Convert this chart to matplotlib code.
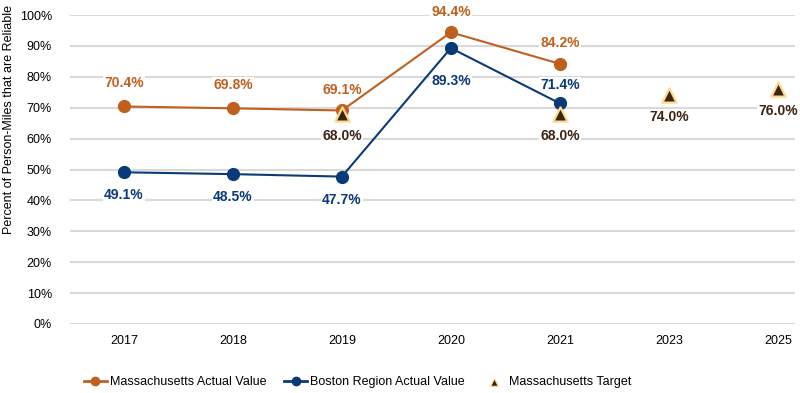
import matplotlib
matplotlib.use("Agg")
import matplotlib.pyplot as plt

# Data -------
years = ["2017", "2018", "2019", "2020", "2021", "2023", "2025"]
ma_actual = [70.4, 69.8, 69.1, 94.4, 84.2]
boston_actual = [49.1, 48.5, 47.7, 89.3, 71.4]
ma_target_idx = [2, 4, 5, 6]
ma_target = [68.0, 68.0, 74.0, 76.0]
y_ticks = list(range(0, 101, 10))

plt.rcParams["font.family"] = ["Liberation Sans", "DejaVu Sans"]

orange = "#C0601E"
navy = "#0A3A78"
brown = "#3B2416"
edge_yellow = "#FFD98C"

# label offsets in pixels (up positive)
ma_off = [23, 23, 20, 20, 21]
bos_off = [-23, -23, -23, -33, 18]
tgt_off = [-22, -22, -22, -22]

fig = plt.figure(figsize=(8, 3.93), dpi=100)
ax = fig.add_axes([0.0875, 0.1756, 0.9065, 0.7862])

x_ma = list(range(len(ma_actual)))
x_bos = list(range(len(boston_actual)))

ax.plot(x_ma, ma_actual, color=orange, lw=1.5, marker="o", ms=8.5,
        markerfacecolor=orange, markeredgecolor=orange, zorder=3)
ax.plot(x_bos, boston_actual, color=navy, lw=1.5, marker="o", ms=8.5,
        markerfacecolor=navy, markeredgecolor=navy, zorder=3)
ax.scatter(ma_target_idx, ma_target, marker="^", s=105, color=brown,
           edgecolors=edge_yellow, linewidths=1.6, zorder=4)

box = dict(facecolor="white", edgecolor="none", pad=1.0)
font_kw = dict(fontsize=10, fontweight="bold", ha="center", va="center")
px = 0.72  # points per pixel at dpi 100

for i, v in enumerate(ma_actual):
    ax.annotate(f"{v:.1f}%", (i, v), xytext=(0, ma_off[i] * px), textcoords="offset points",
                color=orange, bbox=box, zorder=2, **font_kw)
for i, v in enumerate(boston_actual):
    ax.annotate(f"{v:.1f}%", (i, v), xytext=(0, bos_off[i] * px), textcoords="offset points",
                color=navy, bbox=box, zorder=2, **font_kw)
for k, (i, v) in enumerate(zip(ma_target_idx, ma_target)):
    ax.annotate(f"{v:.1f}%", (i, v), xytext=(0, tgt_off[k] * px), textcoords="offset points",
                color=brown, bbox=box, zorder=2, **font_kw)

ax.set_xlim(-0.495, 6.16)
ax.set_ylim(0, 100)
ax.set_xticks(range(len(years)))
ax.set_xticklabels(years, fontsize=9)
ax.set_yticks(y_ticks)
ax.set_yticklabels([f"{t}%" for t in y_ticks], fontsize=9)
ax.tick_params(axis="x", length=0, pad=8)
ax.tick_params(axis="y", length=0, pad=13)
ax.grid(axis="y", color="#D9D9D9", lw=1.5)
ax.set_axisbelow(True)
for s in ax.spines.values():
    s.set_visible(False)
fig.text(0.011, 0.697, "Percent of Person-Miles that are Reliable", fontsize=9,
         rotation=90, ha="center", va="center")

h1, = ax.plot([], [], color=orange, lw=2, marker="o", ms=6)
h2, = ax.plot([], [], color=navy, lw=2, marker="o", ms=6)
h3 = ax.scatter([], [], marker="^", s=30, color=brown, edgecolors=edge_yellow, linewidths=0.8)
fig.legend([h1, h2, h3], ["Massachusetts Actual Value", "Boston Region Actual Value",
                          "Massachusetts Target"],
           loc="center left", bbox_to_anchor=(0.105, 0.028), ncol=3, frameon=False,
           fontsize=9, handlelength=1.8, handletextpad=0.3, columnspacing=1.4,
           borderpad=0, borderaxespad=0)

fig.savefig("out.png", dpi=100)
